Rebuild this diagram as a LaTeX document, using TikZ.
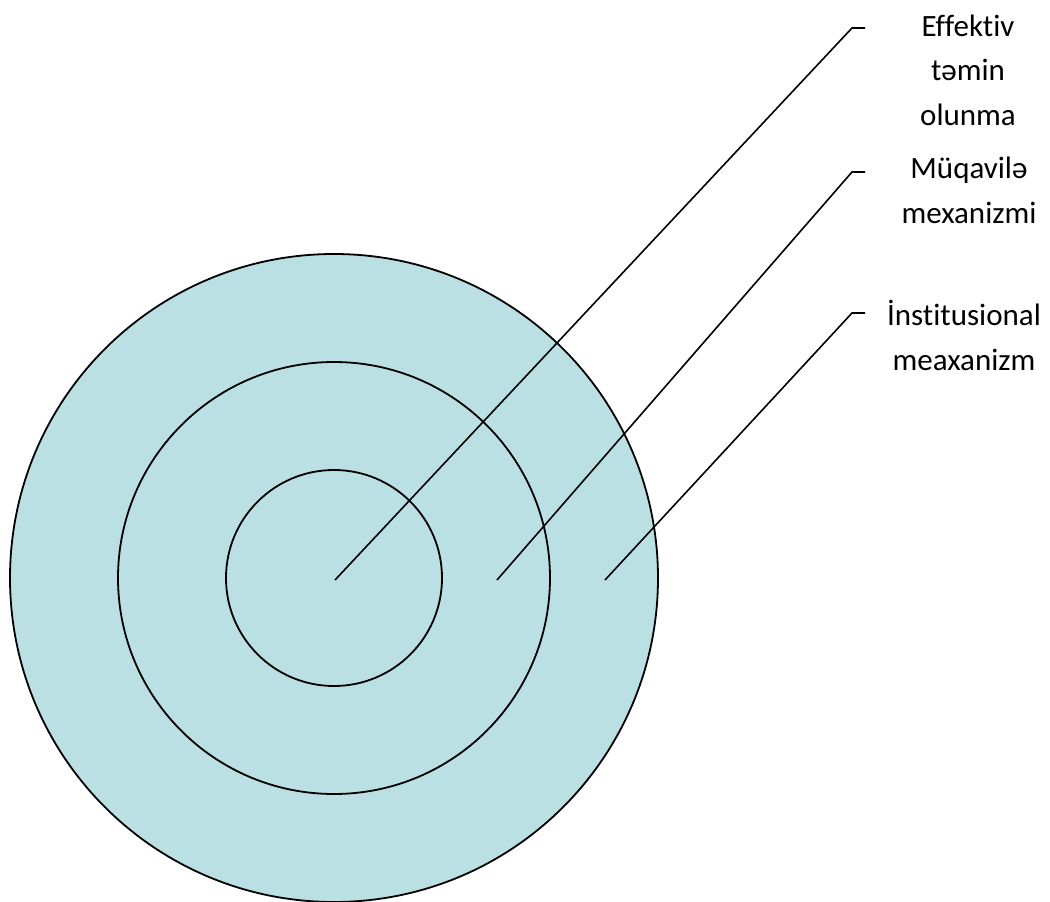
\documentclass[tikz,border=0pt]{standalone}
\usepackage{fontspec}
\setmainfont{Carlito}[Ligatures={NoCommon,NoContextual}]
\definecolor{ringfill}{RGB}{187,224,227}
\begin{document}
\begin{tikzpicture}[x=1pt,y=-1pt,
  ring/.style={circle,draw=black,line width=1.8pt,inner sep=0pt,fill=ringfill},
  leader/.style={draw=black,line width=1.6pt},
  lbl/.style={align=center,inner sep=0pt,anchor=base,font=\fontsize{31}{44.5}\selectfont}]
\useasboundingbox (0,0) rectangle (1050,902);
\node[ring,minimum size=648pt] (outer) at (334,578) {};
\node[ring,minimum size=432pt] (middle) at (334,578) {};
\node[ring,minimum size=216pt] (inner) at (334,578) {};
\coordinate (s1) at (335,580);
\coordinate (s2) at (497,580);
\coordinate (s3) at (605,580);
\coordinate (b1) at (852,28);
\coordinate (b2) at (852,172);
\coordinate (b3) at (852,313);
\coordinate (e1) at (865,28);
\coordinate (e2) at (865,172);
\coordinate (e3) at (865,313);
\draw[leader] (s1) -- (b1) -- (e1);
\draw[leader] (s2) -- (b2) -- (e2);
\draw[leader] (s3) -- (b3) -- (e3);
\node[lbl] (t1) at (968,125) {Effektiv\\təmin\\olunma};
\node[lbl] (t2) at (969,223) {Müqavilə\\mexanizmi};
\node[lbl] (t3) at (964,370) {İnstitusional\\meaxanizm};
\end{tikzpicture}
\end{document}
